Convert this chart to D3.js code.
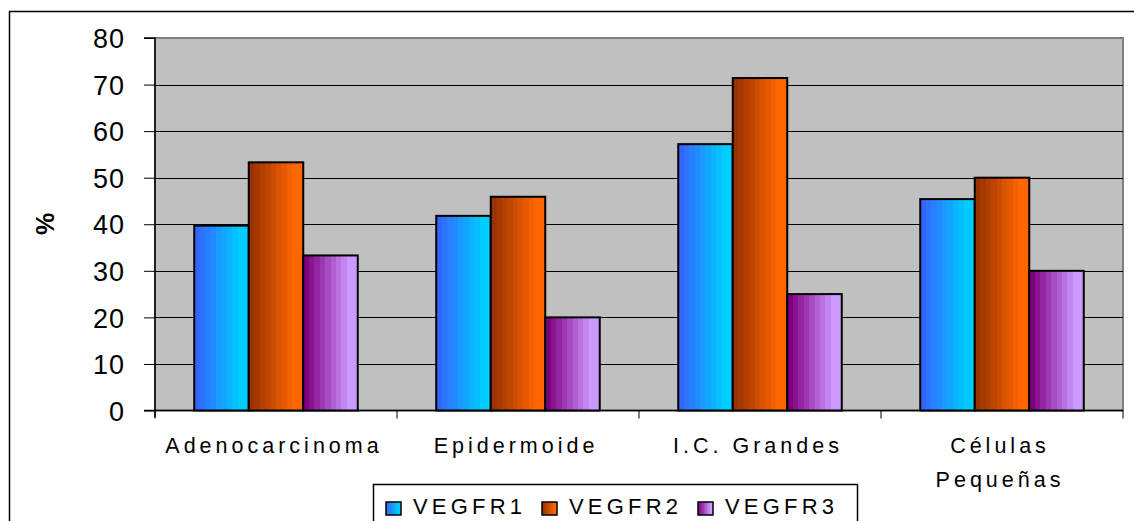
<!DOCTYPE html>
<html><head><meta charset="utf-8">
<script src="https://cdn.jsdelivr.net/npm/d3@7"></script>
<style>body{margin:0;background:#fff}svg{display:block;font-family:Arial,"Liberation Sans",sans-serif}</style>
</head><body><svg id="c" width="1134" height="521"></svg>
<script>
const categories = ["Adenocarcinoma", "Epidermoide", "I.C. Grandes", "Células Pequeñas"];
const series = ["VEGFR1", "VEGFR2", "VEGFR3"];
const vegfr1 = [39.7, 41.8, 57.2, 45.4];
const vegfr2 = [53.3, 45.9, 71.4, 50.0];
const vegfr3 = [33.3, 20.0, 25.0, 30.0];
const yTicks = [0, 10, 20, 30, 40, 50, 60, 70, 80];
const colorStops = [["#3366ff", "#00ccff"], ["#993300", "#ff6600"], ["#800080", "#cc99ff"]];

const values = [vegfr1, vegfr2, vegfr3];
const svg = d3.select("#c");
const L = 155, R = 1123, T = 38, B = 410.5;

// outer border
svg.append("rect").attr("x", 9.5).attr("y", 11.5).attr("width", 1140).attr("height", 540)
  .attr("fill", "none").attr("stroke", "#000").attr("stroke-width", 1.5);

// gradients (stepped)
const defs = svg.append("defs");
colorStops.forEach((c, i) => {
  const g = defs.append("linearGradient").attr("id", "g" + i).attr("x1", 0).attr("x2", 1).attr("y1", 0).attr("y2", 0);
  const n = 10, interp = d3.interpolateRgb(c[0], c[1]);
  for (let k = 0; k < n; k++) {
    const col = interp(Math.min(1, k / (n - 2)));
    g.append("stop").attr("offset", k / n).attr("stop-color", col);
    g.append("stop").attr("offset", (k + 1) / n).attr("stop-color", col);
  }
});

const x0 = d3.scaleBand().domain(categories).range([L, R]).padding(0);
const x1 = d3.scaleBand().domain(series).range([0, x0.bandwidth()]).paddingInner(0).paddingOuter(0.72);
const y = d3.scaleLinear().domain([0, 80]).range([B, T]);

// plot area
svg.append("rect").attr("x", L).attr("y", T).attr("width", R - L).attr("height", B - T)
  .attr("fill", "#c0c0c0").attr("stroke", "#808080").attr("stroke-width", 2);

// gridlines
svg.append("g").selectAll("line").data(yTicks.filter(d => d > 0 && d < 80)).join("line")
  .attr("x1", L).attr("x2", R).attr("y1", d => Math.round(y(d)) + 0.5).attr("y2", d => Math.round(y(d)) + 0.5)
  .attr("stroke", "#000").attr("stroke-width", 1);

// y axis
const yAxis = d3.axisLeft(y).tickValues(yTicks).tickSize(11).tickPadding(19).tickFormat(d3.format("d"));
const ya = svg.append("g").attr("transform", `translate(${L},0)`).call(yAxis);
ya.select(".domain").attr("stroke", "#000").attr("stroke-width", 1.5).attr("d", `M-11,${T}H0V${B + 7}`);
ya.selectAll(".tick line").attr("stroke", "#000");
ya.selectAll(".tick text").attr("font-size", 27).attr("fill", "#000").attr("font-family", "Arial")
  .attr("letter-spacing", 1).attr("dy", "0.36em");

// x axis
const xa = svg.append("g").attr("transform", `translate(0,${B})`);
xa.append("line").attr("x1", L - 11).attr("x2", R).attr("y1", 0).attr("y2", 0).attr("stroke", "#000").attr("stroke-width", 1.5);
xa.selectAll("line.t").data([L, ...categories.map(c => x0(c) + x0.bandwidth())]).join("line").attr("class", "t")
  .attr("x1", d => d).attr("x2", d => d).attr("y1", 0).attr("y2", 8).attr("stroke", "#000");

// bars
series.forEach((s, si) => {
  svg.append("g").selectAll("rect").data(categories).join("rect")
    .attr("x", c => x0(c) + x1(s))
    .attr("y", (c, ci) => y(values[si][ci]))
    .attr("width", x1.bandwidth())
    .attr("height", (c, ci) => B - y(values[si][ci]))
    .attr("fill", `url(#g${si})`)
    .attr("stroke", "#000").attr("stroke-width", 2);
});

// category labels
const catLines = { "Células Pequeñas": ["Células", "Pequeñas"] };
categories.forEach(c => {
  const lines = catLines[c] || [c];
  const t = svg.append("text").attr("text-anchor", "middle").attr("font-size", 21.5).attr("letter-spacing", 4)
    .attr("fill", "#000");
  lines.forEach((ln, i) => t.append("tspan").attr("x", x0(c) + x0.bandwidth() / 2 - 2).attr("y", 453 + i * 34).text(ln));
});

// y label
svg.append("text").attr("transform", "translate(54,224) rotate(-90)").attr("text-anchor", "middle")
  .attr("font-size", 25).attr("font-weight", "bold").text("%");

// legend
const lg = svg.append("g");
lg.append("rect").attr("x", 373.5).attr("y", 484.5).attr("width", 484).attr("height", 60)
  .attr("fill", "#fff").attr("stroke", "#000").attr("stroke-width", 1.5);
const legX = [386, 542, 698];
series.forEach((s, i) => {
  lg.append("rect").attr("x", legX[i]).attr("y", 502).attr("width", 15).attr("height", 13)
    .attr("fill", `url(#g${i})`).attr("stroke", "#000").attr("stroke-width", 1.5);
  lg.append("text").attr("x", legX[i] + 27).attr("y", 514).attr("font-size", 22).attr("letter-spacing", 4.2)
    .text(s);
});
</script></body></html>
